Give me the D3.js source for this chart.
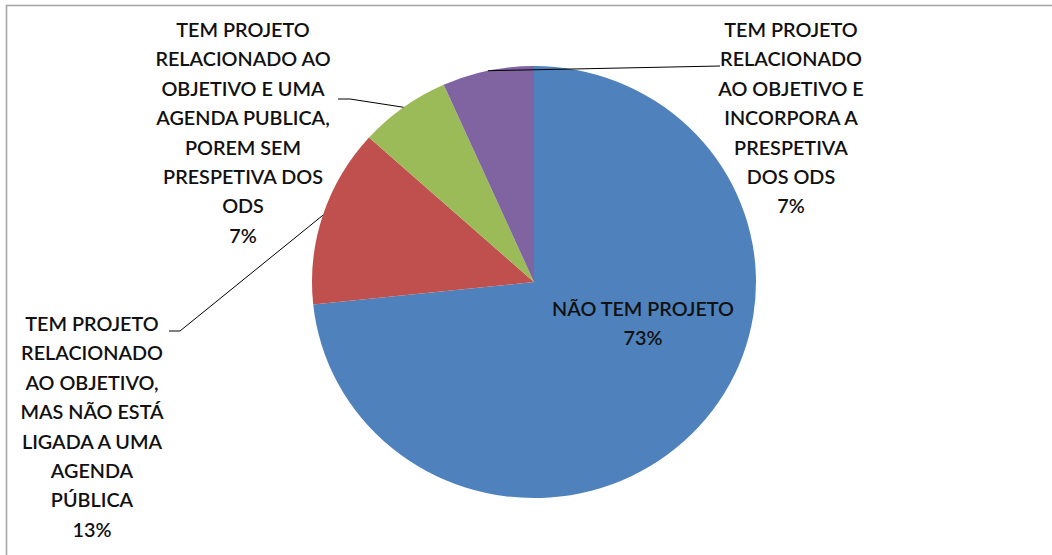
<!DOCTYPE html>
<html>
<head>
<meta charset="utf-8">
<script src="https://cdn.jsdelivr.net/npm/d3@7"></script>
<style>
  html, body { margin: 0; padding: 0; background: #fff; }
  svg { display: block; }
  text { font-family: Lato, "Open Sans", sans-serif; fill: #111; }
</style>
</head>
<body>
<svg id="chart" width="1052" height="555"></svg>
<script>
// ---- data ----
const categories = [
  "NÃO TEM PROJETO",
  "TEM PROJETO RELACIONADO AO OBJETIVO, MAS NÃO ESTÁ LIGADA A UMA AGENDA PÚBLICA",
  "TEM PROJETO RELACIONADO AO OBJETIVO E UMA AGENDA PUBLICA, POREM SEM PRESPETIVA DOS ODS",
  "TEM PROJETO RELACIONADO AO OBJETIVO E INCORPORA A PRESPETIVA DOS ODS"
];
const values = [11, 2, 1, 1];
const percentLabels = ["73%", "13%", "7%", "7%"];
const labelLines = [
  ["NÃO TEM PROJETO"],
  ["TEM PROJETO", "RELACIONADO", "AO OBJETIVO,", "MAS NÃO ESTÁ", "LIGADA A UMA", "AGENDA", "PÚBLICA"],
  ["TEM PROJETO", "RELACIONADO AO", "OBJETIVO E UMA", "AGENDA PUBLICA,", "POREM SEM", "PRESPETIVA DOS", "ODS"],
  ["TEM PROJETO", "RELACIONADO", "AO OBJETIVO E", "INCORPORA A", "PRESPETIVA", "DOS ODS"]
];
const colors = ["#4F81BD", "#C0504D", "#9BBB59", "#8064A2"];

// ---- layout ----
const W = 1052, H = 555;
const cx = 534, cy = 282, rx = 222, ry = 216;
const fontSize = 19.8, lineH = 29.4;
// label placement: center x, first baseline, leader anchor (label side)
const labelLayout = [
  { x: 643, y: 316, leader: null },
  { x: 92, y: 331, leader: [[169, 331], [180, 331]] },
  { x: 243, y: 37, leader: [[338, 99], [350, 99]] },
  { x: 791, y: 37, leader: [[720, 66]] }
];

const svg = d3.select("#chart");

// outer border (partially visible frame)
svg.append("rect")
  .attr("x", 6.5).attr("y", 5.5)
  .attr("width", 1200).attr("height", 700)
  .attr("fill", "none").attr("stroke", "#a6a6a6").attr("stroke-width", 1.6);

const pie = d3.pie().sort(null).value(d => d).startAngle(0).endAngle(2 * Math.PI);
const arcs = pie(values);
const arc = d3.arc().innerRadius(0).outerRadius(rx);

const g = svg.append("g")
  .attr("transform", `translate(${cx},${cy}) scale(1,${ry / rx})`);

g.selectAll("path.slice")
  .data(arcs)
  .join("path")
  .attr("class", "slice")
  .attr("d", arc)
  .attr("fill", (d, i) => colors[i]);

// leader lines
arcs.forEach((d, i) => {
  const L = labelLayout[i];
  if (!L.leader) return;
  const mid = (d.startAngle + d.endAngle) / 2;
  const px = cx + rx * Math.sin(mid);
  const py = cy - ry * Math.cos(mid);
  const pts = [[px, py]].concat(L.leader.slice().reverse());
  svg.append("path")
    .attr("d", d3.line()(pts))
    .attr("fill", "none")
    .attr("stroke", "#000")
    .attr("stroke-width", 1);
});

// labels
arcs.forEach((d, i) => {
  const L = labelLayout[i];
  const lines = labelLines[i].concat([percentLabels[i]]);
  const t = svg.append("text")
    .attr("text-anchor", "middle")
    .attr("font-size", fontSize)
    .attr("font-weight", 600);
  lines.forEach((ln, k) => {
    t.append("tspan")
      .attr("x", L.x)
      .attr("y", L.y + k * lineH)
      .text(ln);
  });
});
</script>
</body>
</html>
